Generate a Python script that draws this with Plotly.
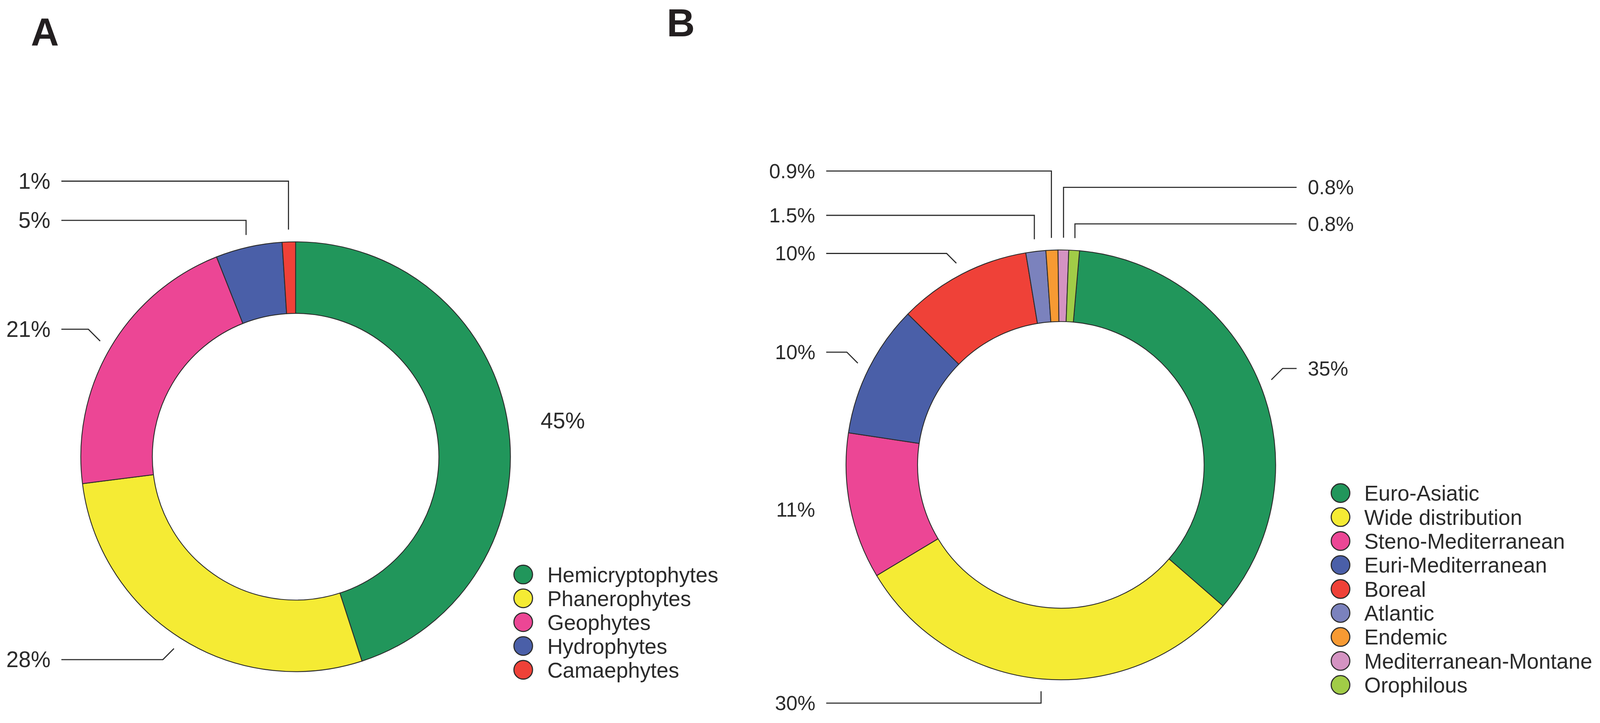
import math
import plotly.graph_objects as go

# reference frame 4118x1850; the photographed page comes out ~0.55% enlarged,
# so every pixel measure is scaled by K
K = 1 / 1.0055
REF_W, REF_H = 4118, 1850
W, H = round(REF_W * K), round(REF_H * K)
FONT = "Liberation Sans, Arial, Helvetica, sans-serif"
INK = "#2b2b2b"

# ---------------- data ----------------
a_labels = ["Hemicryptophytes", "Phanerophytes", "Geophytes", "Hydrophytes", "Camaephytes"]
a_values = [45, 28, 21, 5, 1]
a_texts = ["45%", "28%", "21%", "5%", "1%"]
a_colors = ["#21965b", "#f5eb34", "#ec4695", "#4a5fa8", "#ef4138"]

b_labels = ["Euro-Asiatic", "Wide distribution", "Steno-Mediterranean", "Euri-Mediterranean",
            "Boreal", "Atlantic", "Endemic", "Mediterranean-Montane", "Orophilous"]
b_values = [35, 30, 11, 10, 10, 1.5, 0.9, 0.8, 0.8]
b_texts = ["35%", "30%", "11%", "10%", "10%", "1.5%", "0.9%", "0.8%", "0.8%"]
b_colors = ["#21965b", "#f5eb34", "#ec4695", "#4a5fa8", "#ef4138",
            "#7b82bd", "#f79a33", "#d493c2", "#a1cc47"]

# ---------------- layout / style (reference pixels) ----------------
R = 553
HOLE = 0.667
ANCHOR_R = R * 1.057
FS = 55

panels = [
    dict(labels=a_labels, values=a_values, texts=a_texts, colors=a_colors,
         cx=761, cy=1175, rot=0, lab_fs=57,
         left_x=132, right_x=1390,
         lab=[("R", "n", 1082), ("L", "d", 1697), ("L", "d", 847), ("L", "v", 567), ("L", "v", 466)],
         key_x=1347, text_x=1409, key_y0=1478, key_step=61.3,
         letter="A", letter_x=77, letter_y=83),
    dict(labels=b_labels, values=b_values, texts=b_texts, colors=b_colors,
         cx=2731, cy=1196, rot=5, lab_fs=52,
         left_x=2101, right_x=3365,
         lab=[("R", "d", 948), ("L", "v", 1809), ("L", "n", 1311), ("L", "d", 906), ("L", "d", 652),
              ("L", "v", 554), ("L", "v", 440), ("R", "v", 482), ("R", "v", 576)],
         key_x=3451, text_x=3512, key_y0=1268.5, key_step=61.7,
         letter="B", letter_x=1715, letter_y=59),
]


def S(v):
    return v * K


fig = go.Figure()
shapes = []
annotations = []

for p in panels:
    dx0 = (p["cx"] - R) / REF_W
    dx1 = (p["cx"] + R) / REF_W
    cyb = REF_H - p["cy"]
    dy0 = (cyb - R) / REF_H
    dy1 = (cyb + R) / REF_H
    fig.add_trace(go.Pie(
        labels=p["labels"], values=p["values"], hole=HOLE, sort=False,
        direction="clockwise", rotation=p["rot"],
        marker=dict(colors=p["colors"], line=dict(color=INK, width=2.2)),
        textinfo="none", hoverinfo="label+percent", showlegend=False,
        domain=dict(x=[dx0, dx1], y=[dy0, dy1]),
    ))

    total = sum(p["values"])
    cum = 0.0
    for v, txt, (side, kind, ly) in zip(p["values"], p["texts"], p["lab"]):
        theta = math.radians(p["rot"] + 360.0 * (cum + v / 2.0) / total)
        cum += v
        ax = p["cx"] + ANCHOR_R * math.sin(theta)
        ay = p["cy"] - ANCHOR_R * math.cos(theta)
        if side == "L":
            tx = p["left_x"]
            lend = tx + 26
            xanchor = "right"
            sgn = -1
        else:
            tx = p["right_x"]
            lend = tx - 27
            xanchor = "left"
            sgn = 1
        annotations.append(dict(x=tx, y=ly, xref="x", yref="y", text=txt, showarrow=False,
                                xanchor=xanchor, yanchor="middle",
                                font=dict(family=FONT, size=S(p["lab_fs"]), color=INK)))
        if kind == "v":
            path = f"M {lend},{ly} L {ax},{ly} L {ax},{ay}"
        elif kind == "d":
            ex = ax + sgn * abs(ay - ly)
            path = f"M {lend},{ly} L {ex},{ly} L {ax},{ay}"
        else:
            path = None
        if path:
            shapes.append(dict(type="path", path=path, xref="x", yref="y",
                               line=dict(color=INK, width=2.8), layer="above"))

    # legend keys
    n = len(p["labels"])
    ys = [p["key_y0"] + i * p["key_step"] for i in range(n)]
    fig.add_trace(go.Scatter(
        x=[p["key_x"]] * n, y=ys, mode="markers",
        marker=dict(size=S(48), color=p["colors"], line=dict(color=INK, width=2.8)),
        hoverinfo="skip", showlegend=False, xaxis="x", yaxis="y",
    ))
    fig.add_trace(go.Scatter(
        x=[p["text_x"]] * n, y=[y + 6 for y in ys], mode="text",
        text=p["labels"], textposition="middle right",
        textfont=dict(family=FONT, size=S(FS), color=INK),
        hoverinfo="skip", showlegend=False, xaxis="x", yaxis="y",
    ))

    annotations.append(dict(x=p["letter_x"], y=p["letter_y"], xref="x", yref="y",
                            text=f"<b>{p['letter']}</b>", showarrow=False,
                            xanchor="left", yanchor="middle",
                            font=dict(family=FONT, size=S(100), color="#231f20")))

fig.update_layout(
    width=W, height=H,
    margin=dict(l=0, r=0, t=0, b=0),
    paper_bgcolor="white", plot_bgcolor="white",
    # axes expressed in reference pixels; the figure itself is scaled by K
    xaxis=dict(domain=[0, 1], range=[0, REF_W], visible=False, fixedrange=True),
    yaxis=dict(domain=[0, 1], range=[REF_H, 0], visible=False, fixedrange=True),
    shapes=shapes, annotations=annotations,
    showlegend=False,
)

fig.write_html(
    "out.html",
    config={"displayModeBar": False},
    post_script=(
        "document.body.style.margin='0';"
        "document.body.style.overflow='hidden';"
        "document.documentElement.style.overflow='hidden';"
    ),
)
